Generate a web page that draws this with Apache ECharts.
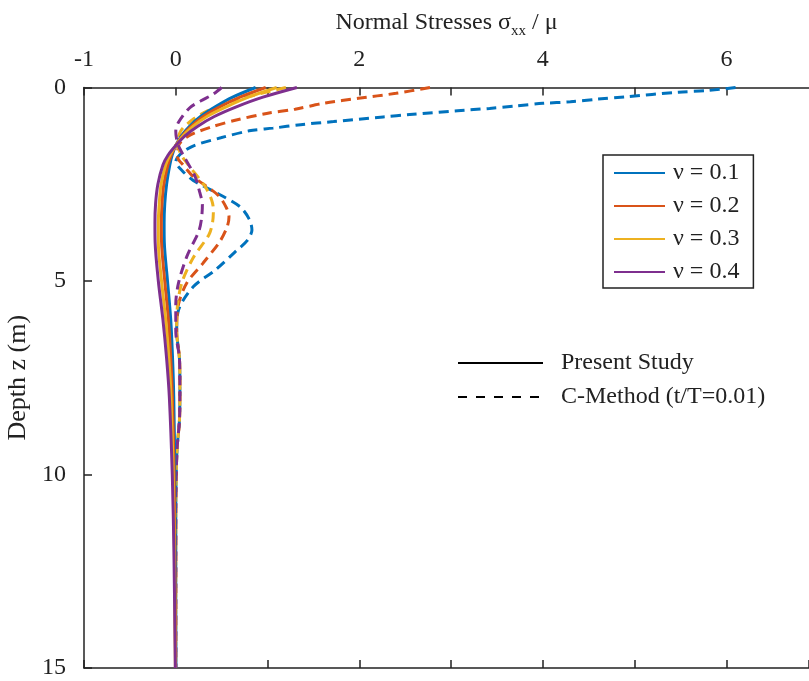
<!DOCTYPE html>
<html>
<head>
<meta charset="utf-8">
<script src="https://cdn.jsdelivr.net/npm/echarts@6/dist/echarts.min.js"></script>
<style>
    html, body { margin: 0; padding: 0; background: #fff; }
    #chart { width: 809px; height: 681px; }
</style>
</head>
<body>
<div id="chart"></div>
<script>
// 名称 / 标签
const nuNames = ["ν = 0.1", "ν = 0.2", "ν = 0.3", "ν = 0.4"];
const colors = ["#0072BD", "#D95319", "#EDB120", "#7E2F8E"];
const xTickLabels = [-1, 0, 2, 4, 6];

// Present Study (solid): shared depth
const solidDepth = [0, 0.25, 0.5, 0.75, 1.0, 1.25, 1.5, 1.75, 2.0, 2.5, 3.0, 3.5, 4.0, 5.0, 6.0, 7.0, 8.0, 10, 12, 15];
const solid01 = [0.87, 0.62, 0.43, 0.27, 0.15, 0.06, 0.0, -0.04, -0.065, -0.1, -0.12, -0.127, -0.125, -0.09, -0.055, -0.035, -0.022, -0.01, -0.005, 0];
const solid02 = [0.98, 0.70, 0.48, 0.30, 0.17, 0.07, 0.0, -0.05, -0.085, -0.13, -0.15, -0.157, -0.155, -0.12, -0.08, -0.055, -0.037, -0.018, -0.01, -0.002];
const solid03 = [1.10, 0.79, 0.55, 0.34, 0.19, 0.08, 0.0, -0.065, -0.11, -0.16, -0.18, -0.19, -0.19, -0.155, -0.11, -0.075, -0.052, -0.028, -0.015, -0.004];
const solid04 = [1.32, 0.95, 0.66, 0.42, 0.24, 0.10, 0.0, -0.085, -0.14, -0.195, -0.22, -0.227, -0.225, -0.19, -0.14, -0.1, -0.07, -0.038, -0.02, -0.005];

// C-Method (dashed): depth / value per nu
const dashDepth01 = [0, 0.08, 0.12, 0.24, 0.3, 0.37, 0.41, 0.48, 0.54, 0.6, 0.7, 0.76, 0.88, 0.96, 1.05, 1.12, 1.3, 1.5, 1.7, 1.92, 2.15, 2.4, 2.73, 3.08, 3.4, 3.68, 3.95, 4.24, 4.72, 5.15, 5.75, 6.3, 7.0, 7.8, 8.6, 9.3, 10, 11, 12, 13, 14, 15];
const dash01 = [6.1, 5.79, 5.48, 4.9, 4.6, 4.3, 4.0, 3.7, 3.42, 3.07, 2.55, 2.26, 1.72, 1.36, 1.06, 0.8, 0.49, 0.2, 0.06, 0.0, 0.07, 0.19, 0.45, 0.7, 0.8, 0.83, 0.78, 0.65, 0.43, 0.19, 0.03, 0.01, 0.04, 0.045, 0.04, 0.015, 0.005, 0, 0, 0, 0, 0];
const dashDepth02 = [0, 0.15, 0.28, 0.4, 0.56, 0.67, 0.84, 1.02, 1.25, 1.5, 1.8, 2.0, 2.3, 2.78, 3.1, 3.34, 3.6, 3.98, 4.53, 5.05, 5.6, 6.3, 7.0, 7.8, 8.6, 9.3, 10, 11, 12, 13, 14, 15];
const dash02 = [2.77, 2.4, 1.99, 1.63, 1.3, 0.99, 0.66, 0.39, 0.14, 0.03, 0.02, 0.08, 0.19, 0.46, 0.55, 0.58, 0.56, 0.48, 0.3, 0.12, 0.03, 0.01, 0.04, 0.045, 0.04, 0.015, 0.005, 0, 0, 0, 0, 0];
const dashDepth03 = [0, 0.2, 0.4, 0.6, 0.8, 1.1, 1.4, 1.7, 1.95, 2.56, 2.9, 3.16, 3.5, 3.81, 4.4, 5.02, 5.6, 6.3, 7.0, 7.8, 8.6, 9.3, 10, 11, 12, 13, 14, 15];
const dash03 = [1.2, 0.85, 0.55, 0.35, 0.2, 0.06, 0.02, 0.05, 0.12, 0.32, 0.39, 0.41, 0.4, 0.36, 0.19, 0.07, 0.02, 0.01, 0.04, 0.045, 0.04, 0.015, 0.005, 0, 0, 0, 0, 0];
const dashDepth04 = [0, 0.17, 0.35, 0.53, 0.9, 1.13, 1.45, 1.74, 2.3, 2.7, 3.03, 3.4, 3.72, 4.37, 5.05, 5.6, 6.3, 7.0, 7.8, 8.6, 9.3, 10, 11, 12, 13, 14, 15];
const dash04 = [0.5, 0.41, 0.27, 0.15, 0.03, 0.0, 0.02, 0.08, 0.21, 0.26, 0.29, 0.28, 0.25, 0.12, 0.03, 0.0, 0.0, 0.04, 0.045, 0.04, 0.015, 0.005, 0, 0, 0, 0, 0];

const solidVals = [solid01, solid02, solid03, solid04];
const dashDepths = [dashDepth01, dashDepth02, dashDepth03, dashDepth04];
const dashVals = [dash01, dash02, dash03, dash04];

const font = "'Liberation Serif', 'Times New Roman', serif";
const pairs = (xs, zs) => xs.map((v, i) => [v, zs[i]]);

const series = [];
// 实线在前（图例取实线图标），用 z 让实线盖住虚线
solidVals.forEach((vals, i) => {
    series.push({
        name: nuNames[i],
        type: "line",
        z: 3,
        data: pairs(vals, solidDepth),
        smooth: 0.3,
        symbol: "none",
        color: colors[i],
        lineStyle: { width: 3, color: colors[i] }
    });
});
dashVals.forEach((vals, i) => {
    series.push({
        name: nuNames[i],
        type: "line",
        z: 2,
        data: pairs(vals, dashDepths[i]),
        smooth: 0.3,
        symbol: "none",
        color: colors[i],
        lineStyle: { width: 3, color: colors[i], type: [10, 6] }
    });
});
// 只用于图例
series.push(
    { name: "Present Study", type: "line", data: [], symbol: "none", color: "#000", lineStyle: { width: 2, color: "#000" } },
    { name: "C-Method (t/T=0.01)", type: "line", data: [], symbol: "none", color: "#000", lineStyle: { width: 2, color: "#000", type: [9, 9] } }
);

const axisLine = { show: true, onZero: false, lineStyle: { color: "#222", width: 1.5 } };
const axisTick = { show: true, inside: true, length: 8, lineStyle: { color: "#222", width: 1.5 } };

const option = {
    animation: false,
    backgroundColor: "#fff",
    grid: { left: 84, right: 0, top: 87.5, bottom: 13, containLabel: false, outerBoundsMode: "none" },
    legend: [
        {
            data: nuNames,
            orient: "vertical",
            left: 603,
            top: 155,
            padding: [6, 14, 4, 10],
            itemWidth: 51,
            itemHeight: 20,
            itemGap: 9,
            borderColor: "#222",
            borderWidth: 1.5,
            backgroundColor: "#fff",
            itemStyle: { opacity: 0 },
            textStyle: { fontFamily: font, fontSize: 24, color: "#222", lineHeight: 24, padding: [0, 0, 0, 3] }
        },
        {
            data: ["Present Study", "C-Method (t/T=0.01)"],
            orient: "vertical",
            left: 457,
            top: 351,
            padding: 0,
            itemWidth: 85,
            itemHeight: 20,
            itemGap: 10,
            itemStyle: { opacity: 0 },
            textStyle: { fontFamily: font, fontSize: 24, color: "#222", lineHeight: 24, padding: [0, 0, 0, 13] }
        }
    ],
    xAxis: [
        {
            type: "value",
            position: "top",
            min: -1,
            max: 6.9,
            interval: 1,
            axisLine: axisLine,
            axisTick: axisTick,
            splitLine: { show: false },
            axisLabel: {
                margin: 16,
                fontFamily: font,
                fontSize: 24,
                color: "#222",
                showMaxLabel: false,
                formatter: (v) => (xTickLabels.includes(v) ? String(v) : "")
            },
            name: "{a|Normal Stresses σ}{sub|xx}{a| / μ}",
            nameLocation: "middle",
            nameGap: 49,
            nameTextStyle: {
                fontFamily: font,
                fontSize: 24,
                color: "#222",
                rich: {
                    a: { fontFamily: font, fontSize: 24, color: "#222" },
                    sub: { fontFamily: font, fontSize: 15, color: "#222", padding: [16, 0, 0, 0] }
                }
            }
        },
        {
            type: "value",
            position: "bottom",
            min: -1,
            max: 6.9,
            interval: 1,
            axisLine: axisLine,
            axisTick: axisTick,
            axisLabel: { show: false },
            splitLine: { show: false }
        }
    ],
    yAxis: {
        type: "value",
        inverse: true,
        min: 0,
        max: 15,
        interval: 5,
        axisLine: axisLine,
        axisTick: axisTick,
        splitLine: { show: false },
        axisLabel: { margin: 18, fontFamily: font, fontSize: 24, color: "#222" },
        name: "Depth z (m)",
        nameLocation: "middle",
        nameGap: 45,
        nameRotate: 90,
        nameTextStyle: { fontFamily: font, fontSize: 26, color: "#222" }
    },
    series: series
};

const ecIns = echarts.init(document.getElementById("chart"));
ecIns.setOption(option);
</script>
</body>
</html>
